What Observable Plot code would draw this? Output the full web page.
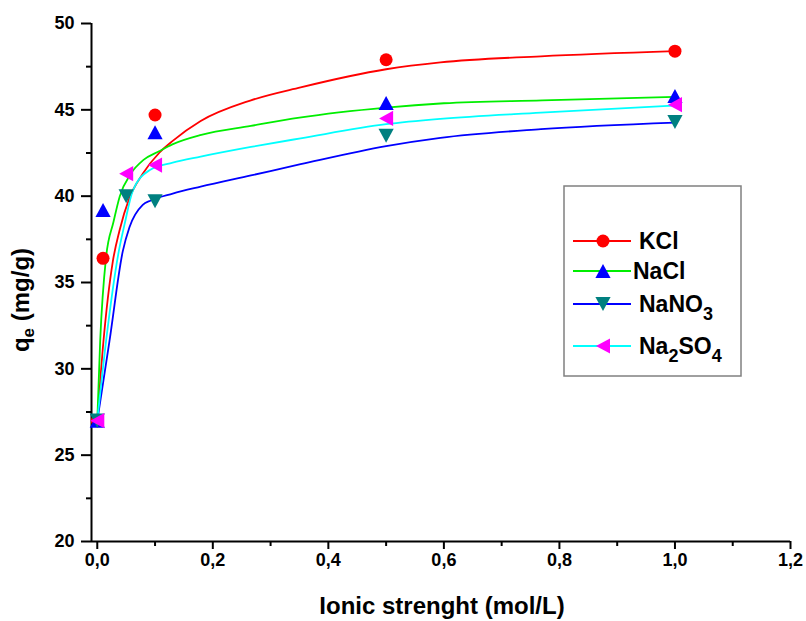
<!DOCTYPE html>
<html>
<head>
<meta charset="utf-8">
<script src="https://cdn.jsdelivr.net/npm/d3@7"></script>
<script src="https://cdn.jsdelivr.net/npm/@observablehq/plot@0.6"></script>
<style>
  html, body { margin: 0; padding: 0; background: #fff; }
  #chart svg { display: block; }
</style>
</head>
<body>
<div id="chart"></div>
<script>
// ---------- data ----------
const seriesNames = ["KCl", "NaCl", "NaNO3", "Na2SO4"];

// measured points
const kclX = [0, 0.01, 0.1, 0.5, 1.0];
const kclY = [27, 36.4, 44.7, 47.9, 48.4];
const naclX = [0, 0.01, 0.1, 0.5, 1.0];
const naclY = [27, 39.2, 43.7, 45.4, 45.8];
const nano3X = [0, 0.05, 0.1, 0.5, 1.0];
const nano3Y = [27, 40.0, 39.7, 43.5, 44.3];
const na2so4X = [0, 0.05, 0.1, 0.5, 1.0];
const na2so4Y = [27, 41.3, 41.8, 44.5, 45.3];

// fitted curves
const kclFitX = [0, 0.0107, 0.0268, 0.0384, 0.0557, 0.0787, 0.107, 0.1306, 0.179, 0.266, 0.352, 0.5, 0.594, 0.768, 1.0];
const kclFitY = [27, 31.6, 36.2, 38.0, 39.9, 41.3, 42.5, 43.2, 44.35, 45.55, 46.3, 47.35, 47.75, 48.1, 48.4];
const naclFitX = [0, 0.005, 0.015, 0.028, 0.039, 0.058, 0.08, 0.107, 0.13, 0.18, 0.266, 0.35, 0.5, 0.6, 0.77, 1.0];
const naclFitY = [27, 31.6, 36.4, 38.5, 40.0, 41.3, 42.1, 42.6, 43.0, 43.55, 44.07, 44.55, 45.13, 45.38, 45.55, 45.75];
const nano3FitX = [0, 0.0211, 0.0441, 0.0557, 0.0787, 0.0926, 0.1306, 0.179, 0.266, 0.352, 0.5, 0.594, 0.768, 1.0];
const nano3FitY = [27, 31.6, 36.8, 38.2, 39.5, 39.75, 40.15, 40.55, 41.2, 41.85, 42.9, 43.38, 43.88, 44.26];
const na2so4FitX = [0, 0.0152, 0.0372, 0.0471, 0.0614, 0.0903, 0.1306, 0.179, 0.266, 0.352, 0.5, 0.594, 0.768, 1.0];
const na2so4FitY = [27, 31.6, 36.8, 38.35, 40.3, 41.5, 41.94, 42.29, 42.85, 43.35, 44.17, 44.48, 44.84, 45.25];

// axes
const xDomain = [-0.01, 1.2];
const yDomain = [20, 50];
const xMajor = [0, 0.2, 0.4, 0.6, 0.8, 1.0, 1.2];
const xMinor = [0.1, 0.3, 0.5, 0.7, 0.9, 1.1];
const yMajor = [20, 25, 30, 35, 40, 45, 50];
const yMinor = [22.5, 27.5, 32.5, 37.5, 42.5, 47.5];
const xTitle = "Ionic strenght (mol/L)";

// ---------- styles ----------
const lineColors = ["#ff0000", "#00ee00", "#0000ff", "#00ffff"];
const markColors = ["#ff0000", "#0000ff", "#008080", "#ff00ff"];

function triangle(dir) {
  return {
    draw(ctx, size) {
      const r = Math.sqrt(size / Math.PI);
      const a = r * 1.17, b = r * 1.08;
      if (dir === "up") { ctx.moveTo(0, -b); ctx.lineTo(a, b); ctx.lineTo(-a, b); }
      else if (dir === "down") { ctx.moveTo(0, b); ctx.lineTo(a, -b); ctx.lineTo(-a, -b); }
      else { ctx.moveTo(-b, 0); ctx.lineTo(b, -a); ctx.lineTo(b, a); }
      ctx.closePath();
    }
  };
}
const symbols = ["circle", triangle("up"), triangle("down"), triangle("left")];

const pts = [[kclX, kclY], [naclX, naclY], [nano3X, nano3Y], [na2so4X, na2so4Y]]
  .map(([xs, ys]) => xs.map((x, i) => ({x, y: ys[i]})));
const fits = [[kclFitX, kclFitY], [naclFitX, naclFitY], [nano3FitX, nano3FitY], [na2so4FitX, na2so4FitY]]
  .map(([xs, ys]) => xs.map((x, i) => ({x, y: ys[i]})));

const font = "'Liberation Sans', Arial, Helvetica, sans-serif";
const comma = d => d.toFixed(1).replace(".", ",");

const chart = Plot.plot({
  width: 806,
  height: 621,
  marginLeft: 91,
  marginRight: 16,
  marginTop: 23,
  marginBottom: 80,
  style: {fontFamily: font, background: "#fff", color: "#000"},
  x: {domain: xDomain, label: null},
  y: {domain: yDomain, label: null},
  marks: [
    Plot.axisY({ticks: yMinor, tickSize: 5, strokeWidth: 2, tickFormat: () => "", label: null}),
    Plot.axisY({ticks: yMajor, tickSize: 10, tickPadding: 7, strokeWidth: 2, tickFormat: d => String(d),
      fontSize: 18, fontWeight: "bold", label: null}),
    Plot.axisX({ticks: xMinor, tickSize: 5, strokeWidth: 2, tickFormat: () => "", label: null}),
    Plot.axisX({ticks: xMajor, tickSize: 8, tickPadding: 4, strokeWidth: 2, tickFormat: comma,
      fontSize: 18, fontWeight: "bold", label: null}),
    Plot.ruleX([xDomain[0]], {y1: yDomain[0], y2: yDomain[1], strokeWidth: 2, stroke: "#000"}),
    Plot.ruleY([yDomain[0]], {x1: xDomain[0], x2: xDomain[1], strokeWidth: 2, stroke: "#000"}),
    ...fits.map((d, i) => Plot.line(d, {x: "x", y: "y", stroke: lineColors[i], strokeWidth: 1.8, curve: "monotone-x"})),
    ...pts.map((d, i) => Plot.dot(d, {x: "x", y: "y", r: 6.5, symbol: symbols[i], fill: markColors[i], stroke: "none"}))
  ]
});
document.getElementById("chart").appendChild(chart);

// ---------- titles and legend ----------
const svg = d3.select(chart);

const yl = svg.append("text")
  .attr("transform", "translate(29,300) rotate(-90)")
  .attr("text-anchor", "middle")
  .attr("font-family", font).attr("font-weight", "bold").attr("font-size", 24).attr("fill", "#000");
yl.append("tspan").text("q");
yl.append("tspan").attr("font-size", 17).attr("dy", 5).text("e");
yl.append("tspan").attr("dy", -5).text(" (mg/g)");

svg.append("text")
  .attr("x", 442).attr("y", 614)
  .attr("text-anchor", "middle")
  .attr("font-family", font).attr("font-weight", "bold").attr("font-size", 24).attr("fill", "#000")
  .text(xTitle);

const lg = svg.append("g");
lg.append("rect").attr("x", 564).attr("y", 186).attr("width", 177).attr("height", 190)
  .attr("fill", "#fff").attr("stroke", "#808080").attr("stroke-width", 1.5);
const rowY = [241, 271, 304, 346];
const labelParts = [
  [["KCl", false]],
  [["NaCl", false]],
  [["NaNO", false], ["3", true]],
  [["Na", false], ["2", true], ["SO", false], ["4", true]]
];
const symGen = d3.symbol().size(6.5 * 6.5 * Math.PI);
rowY.forEach((y, i) => {
  lg.append("line").attr("x1", 573).attr("x2", 631).attr("y1", y).attr("y2", y)
    .attr("stroke", lineColors[i]).attr("stroke-width", 1.8);
  const s = symbols[i] === "circle" ? d3.symbolCircle : symbols[i];
  lg.append("path").attr("d", symGen.type(s)()).attr("transform", `translate(603,${y})`)
    .attr("fill", markColors[i]);
  const t = lg.append("text").attr("x", i === 1 ? 633 : 639).attr("y", y + 8)
    .attr("text-anchor", "start")
    .attr("font-family", font).attr("font-weight", "bold").attr("font-size", 23).attr("fill", "#000");
  let sub = false;
  labelParts[i].forEach(([txt, isSub]) => {
    const ts = t.append("tspan").text(txt);
    if (isSub && !sub) { ts.attr("dy", 8).attr("font-size", 18); sub = true; }
    else if (isSub) { ts.attr("font-size", 18); }
    else if (!isSub && sub) { ts.attr("dy", -8); sub = false; }
  });
});
</script>
</body>
</html>
